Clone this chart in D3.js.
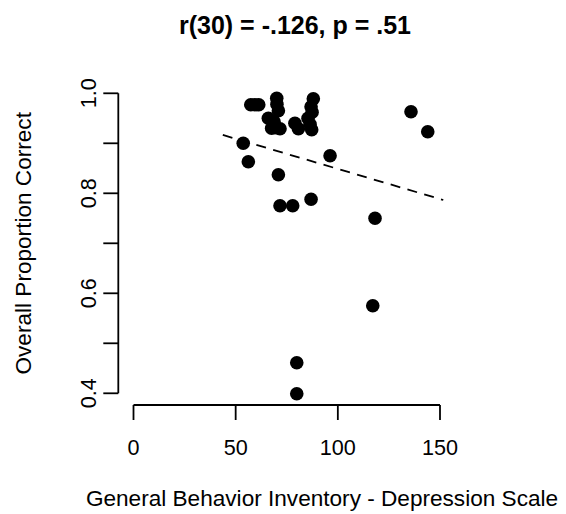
<!DOCTYPE html>
<html>
<head>
<meta charset="utf-8">
<script src="https://cdn.jsdelivr.net/npm/d3@7"></script>
<style>
  html, body { margin: 0; padding: 0; background: #fff; }
  svg text { font-family: "Liberation Sans", Arial, Helvetica, sans-serif; fill: #000; }
</style>
</head>
<body>
<svg id="chart" width="566" height="514"></svg>
<script>
// GBI depression score for each participant
const gbiDepression = [
  57.4, 61.3, 70.1, 70.9, 66.0, 67.6, 71.7, 79.0, 80.7, 87.2,
  85.4, 86.9, 88.0, 53.7, 56.2, 70.9, 71.7, 77.9, 86.9, 96.2,
  144.0, 135.8, 118.2, 117.1, 79.9, 79.9, 68.8, 69.7, 86.4, 87.4,
  70.2, 59.4
];
// Overall proportion of trials answered correctly
const proportionCorrect = [
  0.977, 0.977, 0.990, 0.965, 0.950, 0.930, 0.929, 0.940, 0.929, 0.927,
  0.950, 0.973, 0.989, 0.900, 0.863, 0.837, 0.775, 0.775, 0.788, 0.875,
  0.923, 0.963, 0.750, 0.575, 0.461, 0.399, 0.943, 0.931, 0.938, 0.962,
  0.978, 0.977
];

// Least-squares fit, drawn across the x span below
const fitIntercept = 0.9693;
const fitSlope = -0.001205;
const fitSpan = [43.7, 151.6];

const xTicks = [0, 50, 100, 150];
const yTicks = [0.4, 0.5, 0.6, 0.7, 0.8, 0.9, 1.0];
const yTickLabels = [0.4, 0.6, 0.8, 1.0];

const titleText = "r(30) = -.126, p = .51";
const xTitle = "General Behavior Inventory - Depression Scale";
const yTitle = "Overall Proportion Correct";

const svg = d3.select("#chart");
const x = d3.scaleLinear().domain([0, 150]).range([133.5, 440]);
const y = d3.scaleLinear().domain([0.4, 1.0]).range([393.3, 93.3]);

const axisY0 = 405;   // x axis baseline
const axisX0 = 118.3; // y axis position
const tickLen = 15;
const lw = 1.8;
const tickFont = 21.6;
const labelFont = 22.6;

// x axis
const gx = svg.append("g").attr("stroke", "#000").attr("stroke-width", lw).attr("fill", "none");
gx.append("line")
  .attr("x1", x(xTicks[0])).attr("x2", x(xTicks[xTicks.length - 1]))
  .attr("y1", axisY0).attr("y2", axisY0);
gx.selectAll("line.t").data(xTicks).join("line").attr("class", "t")
  .attr("x1", d => x(d)).attr("x2", d => x(d))
  .attr("y1", axisY0).attr("y2", axisY0 + tickLen);
svg.append("g").selectAll("text").data(xTicks).join("text")
  .attr("x", d => x(d)).attr("y", 455)
  .attr("text-anchor", "middle").attr("font-size", tickFont)
  .text(d => d);

// y axis
const gy = svg.append("g").attr("stroke", "#000").attr("stroke-width", lw).attr("fill", "none");
gy.append("line")
  .attr("x1", axisX0).attr("x2", axisX0)
  .attr("y1", y(yTicks[0])).attr("y2", y(yTicks[yTicks.length - 1]));
gy.selectAll("line.t").data(yTicks).join("line").attr("class", "t")
  .attr("x1", axisX0 - tickLen).attr("x2", axisX0)
  .attr("y1", d => y(d)).attr("y2", d => y(d));
svg.append("g").selectAll("text").data(yTickLabels).join("text")
  .attr("transform", d => `translate(96,${y(d)}) rotate(-90)`)
  .attr("text-anchor", "middle").attr("font-size", tickFont)
  .text(d => d.toFixed(1));

// regression line
svg.append("line")
  .attr("x1", x(fitSpan[0])).attr("y1", y(fitIntercept + fitSlope * fitSpan[0]))
  .attr("x2", x(fitSpan[1])).attr("y2", y(fitIntercept + fitSlope * fitSpan[1]))
  .attr("stroke", "#000").attr("stroke-width", lw)
  .attr("stroke-dasharray", "10,7.5");

// points
const pts = gbiDepression.map((v, i) => ({ gx: v, pc: proportionCorrect[i] }));
svg.append("g").selectAll("circle").data(pts).join("circle")
  .attr("cx", d => x(d.gx)).attr("cy", d => y(d.pc))
  .attr("r", 6.8).attr("fill", "#000");

// titles
svg.append("text")
  .attr("x", 295).attr("y", 34)
  .attr("text-anchor", "middle").attr("font-size", 25).attr("font-weight", "bold")
  .text(titleText);
svg.append("text")
  .attr("x", 322).attr("y", 506)
  .attr("text-anchor", "middle").attr("font-size", labelFont)
  .text(xTitle);
svg.append("text")
  .attr("transform", `translate(31,243.3) rotate(-90)`)
  .attr("text-anchor", "middle").attr("font-size", labelFont)
  .text(yTitle);
</script>
</body>
</html>
